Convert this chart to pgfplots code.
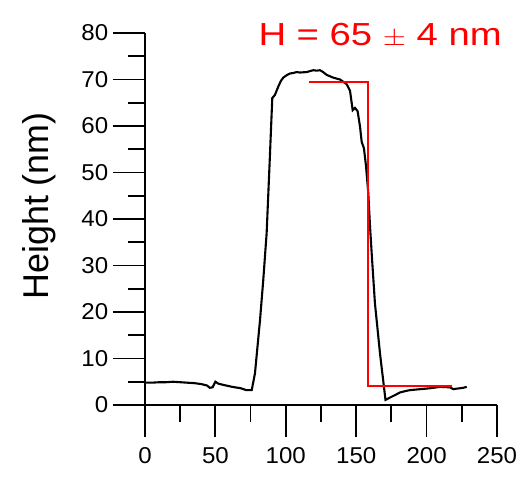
\documentclass[border=0pt]{standalone}
\usepackage{fontspec}
\setmainfont{Liberation Sans}
\usepackage{pgfplots}
\pgfplotsset{compat=1.18}

\begin{document}
\begin{tikzpicture}
\useasboundingbox (-145bp,-72bp) rectangle (382bp,405bp);
\begin{axis}[
  at={(0,0)}, anchor=south west,
  scale only axis, width=352bp, height=372bp,
  xmin=0, xmax=250, ymin=0, ymax=80,
  enlargelimits=false,
  axis lines=left, axis line style={-, line width=1.8bp, black},
  xtick={0,50,...,250}, ytick={0,10,...,80},
  minor tick num=1,
  tick align=outside,
  major tick length=32bp, minor tick length=17bp,
  every tick/.style={black, line width=1.8bp},
  /pgf/number format/assume math mode=true,
  tick label style={font=\fontsize{23}{24}\selectfont, xscale=1.05},
  xticklabel style={yshift=-7bp},
  yticklabel style={xshift=-1bp},
  ylabel={Height (nm)},
  ylabel style={font=\fontsize{36}{38}\selectfont, at={(axis description cs:0,0.535)}, anchor=center, yshift=106bp},
  clip=false,
]
\addplot[black, line width=2.1bp] coordinates {
(0,4.8) (5,4.8) (10,4.9) (15,4.9) (20,5.0) (25,4.9) (30,4.8) (35,4.7) (40,4.5) (44,4.2)
(46,3.7) (48,3.8) (50,5.0) (52,4.6) (56,4.3) (62,3.9) (68,3.6) (72,3.2) (75.8,3.2)
(78.1,6.8) (81.7,18.3) (84.0,26.9) (86.4,37.0) (88.5,52) (90.4,66.0) (92.3,66.7)
(94.7,68.5) (96.5,69.7) (98.2,70.4) (101,71.0) (103,71.3) (105.3,71.4) (107.7,71.6)
(110.1,71.5) (114.8,71.6) (119.5,72.0) (122,71.9) (124.3,72.0) (126.5,71.6) (129.0,71.0)
(133.7,70.4) (138.5,70.0) (143.2,69.0) (145.6,67.6) (147.5,63.4) (149.1,63.9) (151.0,63.2)
(152.7,59.9) (153.9,56.6) (155.5,55.2) (157.0,51.3) (158.6,45.5) (159.8,38.5) (161.0,32.6)
(163.3,21.9) (166.9,11.1) (170.8,1.1) (174.0,1.6) (178,2.2) (181.1,2.7) (185,3.0)
(188.2,3.2) (195.3,3.4) (202.4,3.6) (209.5,3.9) (216.6,3.8) (219,3.4) (221,3.5)
(223.7,3.6) (226,3.7) (228.5,3.9)
};
\addplot[red, line width=2bp] coordinates {
(116.7,69.4) (158.5,69.4) (158.5,4.15) (217.8,4.15)
};
\node[red, font=\fontsize{32}{34}\selectfont, xscale=1.2] at (axis cs:167,79.4) {H = 65 $\pm$ 4 nm};
\end{axis}
\end{tikzpicture}
\end{document}
